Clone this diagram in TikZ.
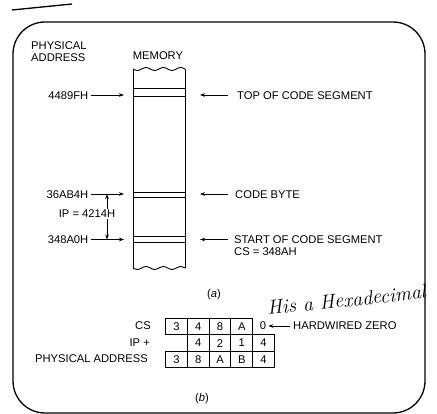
\documentclass[tikz,border=0pt]{standalone}
\usepackage{fontspec}
\setsansfont{Liberation Sans}
\usetikzlibrary{arrows.meta}
\begin{document}
\begin{tikzpicture}[x=1pt,y=-1pt,
  lbl/.style={font=\sffamily\fontsize{11.2}{12}\selectfont, inner sep=0pt},
  arr/.style={-{Stealth[length=5pt,width=3.6pt]}, line width=0.8pt},
  darr/.style={{Stealth[length=5pt,width=3.6pt]}-{Stealth[length=5pt,width=3.6pt]}, line width=0.8pt},
  mem/.style={line width=0.9pt},
  cell/.style={draw, line width=1pt, minimum width=21.8pt, minimum height=16.4pt, inner sep=0pt,
    font=\sffamily\fontsize{11.2}{12}\selectfont, anchor=north west}]
\useasboundingbox (0,0) rectangle (437,414);
\fill[white] (0,0) rectangle (437,414);
\begin{scope}
\clip (0,0) rectangle (437,414);
% frame and stray stroke
\draw[line width=1.3pt, rounded corners=32pt] (13,22) rectangle (425,413);
\draw[line width=1.3pt] (12,10) -- (72,4);

% memory column
\draw[mem] plot[variable=\t, domain=0:3, samples=60, smooth] ({133+17.333*\t}, {69+1.4*sin(360*\t)});
\draw[mem] plot[variable=\t, domain=0:3, samples=60, smooth] ({133+17.333*\t}, {268+1.4*sin(360*\t)});
\draw[mem] (133,69) -- (133,268);
\draw[mem] (185,69) -- (185,268);
\draw[mem] (133,88) -- (185,88);
\draw[mem] (133,96) -- (185,96);
\draw[mem] (133,192) -- (185,192);
\draw[mem] (133,197) -- (185,197);
\draw[mem] (133,236) -- (185,236);
\draw[mem] (133,242) -- (185,242);

% labels
\node[lbl, anchor=base west] (phys) at (31,50) {PHYSICAL};
\node[lbl, anchor=base west] (addr) at (31,61.5) {ADDRESS};
\node[lbl, anchor=base] (memory) at (158,60) {MEMORY};

\node[lbl, anchor=base east] (a1) at (88.5,99.5) {4489FH};
\node[lbl, anchor=base east] (a2) at (88.5,198.5) {36AB4H};
\node[lbl, anchor=base east] (a3) at (88.5,244) {348A0H};
\coordinate (l1) at (124,95);
\coordinate (l2) at (124,194);
\coordinate (l3) at (124,239.5);
\draw[arr] ([xshift=2pt]a1.east |- l1) -- (l1);
\draw[arr] ([xshift=2pt]a2.east |- l2) -- (l2);
\draw[arr] ([xshift=2pt]a3.east |- l3) -- (l3);

\coordinate (ipt) at (107,194);
\coordinate (ipb) at (107,239.5);
\draw[darr] (ipt) -- (ipb);
\node[lbl, anchor=base, fill=white, inner xsep=0pt, inner ysep=1pt] (ip) at (87,218) {IP = 4214H};

\node[lbl, anchor=base west] (t1) at (237,100) {TOP OF CODE SEGMENT};
\node[lbl, anchor=base west] (t2) at (235,199) {CODE BYTE};
\node[lbl, anchor=base west] (t3) at (234,244) {START OF CODE SEGMENT};
\node[lbl, anchor=base west] (t4) at (234,255.5) {CS = 348AH};
\coordinate (r1) at (200,95);
\coordinate (r2) at (200,194);
\coordinate (r3) at (200,239.5);
\draw[arr] ([xshift=-9pt]t1.west |- r1) -- (r1);
\draw[arr] ([xshift=-7pt]t2.west |- r2) -- (r2);
\draw[arr] ([xshift=-6pt]t3.west |- r3) -- (r3);

\node[lbl] (capa) at (214,295) {(\textit{a})};

% table (b)
\foreach \tt [count=\i] in {3,4,8,A} {
  \node[cell] (c1-\i) at ({165+21.8*(\i-1)},318) {\tt};
}
\foreach \tt [count=\i] in {4,2,1,4} {
  \node[cell] (c2-\i) at ({186.8+21.8*(\i-1)},334.4) {\tt};
}
\foreach \tt [count=\i] in {3,8,A,B,4} {
  \node[cell] (c3-\i) at ({165+21.8*(\i-1)},350.8) {\tt};
}
\node[lbl] (zero) at (263,326) {0};
\node[lbl, anchor=west] (hz) at (293,326) {HARDWIRED ZERO};
\draw[arr] ([xshift=-3pt]hz.west) -- ([xshift=2pt]zero.east);
\node[lbl, anchor=east] (cs) at (151,326) {CS};
\node[lbl, anchor=east] (ipp) at (150,342.6) {IP +};
\node[lbl, anchor=east] (pa) at (148,359) {PHYSICAL ADDRESS};
\node[lbl] (capb) at (202,398.5) {(\textit{b})};

% handwritten note
\node[font=\itshape\fontsize{20}{20}\selectfont, rotate=6, anchor=base west, inner sep=0pt] (hw) at (268,315) {His a Hexadecimal};
\end{scope}
\end{tikzpicture}
\end{document}
